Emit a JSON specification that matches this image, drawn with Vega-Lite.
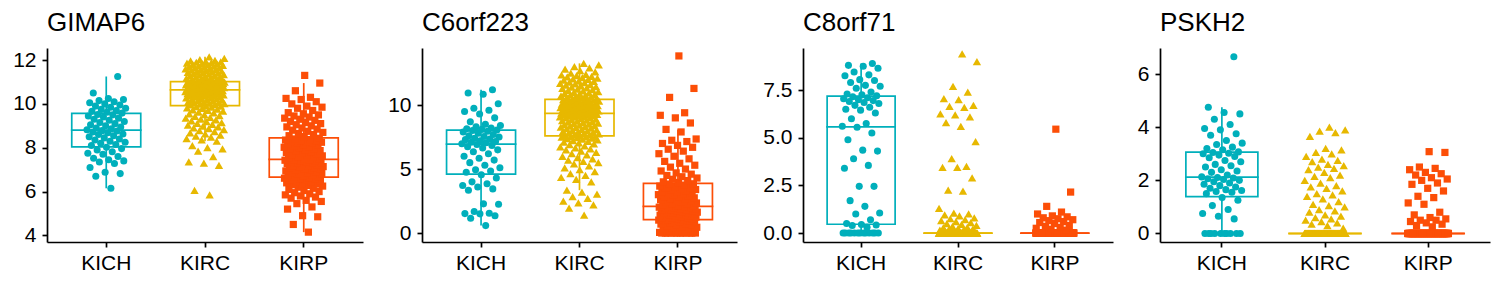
{
"$schema":"https://vega.github.io/schema/vega-lite/v6.json",
"background":"white",
"padding":{"left":0,"top":10,"right":4,"bottom":4},
"config":{
"view":{"stroke":null},
"font":"Liberation Sans",
"axis":{"domainColor":"black","domainWidth":1.7,"tickColor":"black","tickWidth":1.7,"tickSize":5,"labelColor":"black","labelFont":"Liberation Sans","labelFontSize":21,"grid":false},
"axisX":{"labelPadding":5,"labelAngle":0},
"axisY":{"labelPadding":6},
"title":{"font":"Liberation Sans","fontSize":26,"fontWeight":"normal","color":"black","anchor":"start","frame":"group","baseline":"alphabetic","offset":12}
},
"data":{"values":[
{"type":"KICH","GIMAP6":6.15,"C6orf223":0.58,"C8orf71":0,"PSKH2":0},
{"type":"KICH","GIMAP6":6.7,"C6orf223":1.15,"C8orf71":0,"PSKH2":0},
{"type":"KICH","GIMAP6":6.82,"C6orf223":1.35,"C8orf71":0,"PSKH2":0},
{"type":"KICH","GIMAP6":6.88,"C6orf223":1.5,"C8orf71":0,"PSKH2":0},
{"type":"KICH","GIMAP6":7.1,"C6orf223":1.52,"C8orf71":0,"PSKH2":0},
{"type":"KICH","GIMAP6":7.28,"C6orf223":1.55,"C8orf71":0,"PSKH2":0},
{"type":"KICH","GIMAP6":7.35,"C6orf223":1.68,"C8orf71":0,"PSKH2":0},
{"type":"KICH","GIMAP6":7.4,"C6orf223":2.25,"C8orf71":0,"PSKH2":0},
{"type":"KICH","GIMAP6":7.45,"C6orf223":2.28,"C8orf71":0,"PSKH2":0},
{"type":"KICH","GIMAP6":7.52,"C6orf223":3.35,"C8orf71":0,"PSKH2":0},
{"type":"KICH","GIMAP6":7.6,"C6orf223":3.45,"C8orf71":0,"PSKH2":0.55},
{"type":"KICH","GIMAP6":7.7,"C6orf223":3.6,"C8orf71":0,"PSKH2":0.65},
{"type":"KICH","GIMAP6":7.75,"C6orf223":3.72,"C8orf71":0,"PSKH2":0.75},
{"type":"KICH","GIMAP6":7.82,"C6orf223":3.85,"C8orf71":0.3,"PSKH2":0.9},
{"type":"KICH","GIMAP6":7.9,"C6orf223":4.0,"C8orf71":0.4,"PSKH2":1.05},
{"type":"KICH","GIMAP6":7.96,"C6orf223":4.3,"C8orf71":0.42,"PSKH2":1.25},
{"type":"KICH","GIMAP6":8.02,"C6orf223":4.55,"C8orf71":0.45,"PSKH2":1.35},
{"type":"KICH","GIMAP6":8.1,"C6orf223":4.75,"C8orf71":0.5,"PSKH2":1.5},
{"type":"KICH","GIMAP6":8.15,"C6orf223":4.85,"C8orf71":0.7,"PSKH2":1.55},
{"type":"KICH","GIMAP6":8.2,"C6orf223":4.95,"C8orf71":1.0,"PSKH2":1.58},
{"type":"KICH","GIMAP6":8.25,"C6orf223":5.1,"C8orf71":1.05,"PSKH2":1.62},
{"type":"KICH","GIMAP6":8.3,"C6orf223":5.3,"C8orf71":1.4,"PSKH2":1.65},
{"type":"KICH","GIMAP6":8.35,"C6orf223":5.5,"C8orf71":1.7,"PSKH2":1.7},
{"type":"KICH","GIMAP6":8.4,"C6orf223":5.7,"C8orf71":2.45,"PSKH2":1.75},
{"type":"KICH","GIMAP6":8.45,"C6orf223":5.85,"C8orf71":2.45,"PSKH2":1.8},
{"type":"KICH","GIMAP6":8.5,"C6orf223":6.0,"C8orf71":3.4,"PSKH2":1.85},
{"type":"KICH","GIMAP6":8.55,"C6orf223":6.2,"C8orf71":3.55,"PSKH2":1.9},
{"type":"KICH","GIMAP6":8.6,"C6orf223":6.35,"C8orf71":3.9,"PSKH2":1.95},
{"type":"KICH","GIMAP6":8.63,"C6orf223":6.5,"C8orf71":4.3,"PSKH2":2.0},
{"type":"KICH","GIMAP6":8.68,"C6orf223":6.65,"C8orf71":4.35,"PSKH2":2.03},
{"type":"KICH","GIMAP6":8.72,"C6orf223":6.75,"C8orf71":4.9,"PSKH2":2.06},
{"type":"KICH","GIMAP6":8.76,"C6orf223":6.85,"C8orf71":5.25,"PSKH2":2.09},
{"type":"KICH","GIMAP6":8.78,"C6orf223":6.92,"C8orf71":5.55,"PSKH2":2.11},
{"type":"KICH","GIMAP6":8.82,"C6orf223":6.98,"C8orf71":5.6,"PSKH2":2.13},
{"type":"KICH","GIMAP6":8.86,"C6orf223":7.05,"C8orf71":5.75,"PSKH2":2.2},
{"type":"KICH","GIMAP6":8.9,"C6orf223":7.1,"C8orf71":6.0,"PSKH2":2.3},
{"type":"KICH","GIMAP6":8.95,"C6orf223":7.15,"C8orf71":6.3,"PSKH2":2.35},
{"type":"KICH","GIMAP6":9.0,"C6orf223":7.2,"C8orf71":6.45,"PSKH2":2.4},
{"type":"KICH","GIMAP6":9.05,"C6orf223":7.3,"C8orf71":6.5,"PSKH2":2.5},
{"type":"KICH","GIMAP6":9.1,"C6orf223":7.35,"C8orf71":6.6,"PSKH2":2.55},
{"type":"KICH","GIMAP6":9.15,"C6orf223":7.4,"C8orf71":6.7,"PSKH2":2.6},
{"type":"KICH","GIMAP6":9.2,"C6orf223":7.5,"C8orf71":6.8,"PSKH2":2.7},
{"type":"KICH","GIMAP6":9.25,"C6orf223":7.55,"C8orf71":6.85,"PSKH2":2.75},
{"type":"KICH","GIMAP6":9.3,"C6orf223":7.6,"C8orf71":6.9,"PSKH2":2.85},
{"type":"KICH","GIMAP6":9.35,"C6orf223":7.7,"C8orf71":6.95,"PSKH2":2.9},
{"type":"KICH","GIMAP6":9.4,"C6orf223":7.8,"C8orf71":7.0,"PSKH2":2.95},
{"type":"KICH","GIMAP6":9.45,"C6orf223":7.9,"C8orf71":7.05,"PSKH2":3.0},
{"type":"KICH","GIMAP6":9.5,"C6orf223":7.95,"C8orf71":7.1,"PSKH2":3.02},
{"type":"KICH","GIMAP6":9.52,"C6orf223":8.02,"C8orf71":7.15,"PSKH2":3.05},
{"type":"KICH","GIMAP6":9.58,"C6orf223":8.05,"C8orf71":7.2,"PSKH2":3.07},
{"type":"KICH","GIMAP6":9.62,"C6orf223":8.1,"C8orf71":7.25,"PSKH2":3.15},
{"type":"KICH","GIMAP6":9.66,"C6orf223":8.15,"C8orf71":7.3,"PSKH2":3.2},
{"type":"KICH","GIMAP6":9.7,"C6orf223":8.2,"C8orf71":7.4,"PSKH2":3.25},
{"type":"KICH","GIMAP6":9.75,"C6orf223":8.3,"C8orf71":7.6,"PSKH2":3.35},
{"type":"KICH","GIMAP6":9.8,"C6orf223":8.4,"C8orf71":7.7,"PSKH2":3.4},
{"type":"KICH","GIMAP6":9.85,"C6orf223":8.5,"C8orf71":7.75,"PSKH2":3.5},
{"type":"KICH","GIMAP6":9.9,"C6orf223":8.7,"C8orf71":7.9,"PSKH2":3.7},
{"type":"KICH","GIMAP6":9.95,"C6orf223":9.0,"C8orf71":8.0,"PSKH2":3.75},
{"type":"KICH","GIMAP6":10.0,"C6orf223":9.3,"C8orf71":8.05,"PSKH2":3.9},
{"type":"KICH","GIMAP6":10.05,"C6orf223":9.5,"C8orf71":8.25,"PSKH2":3.95},
{"type":"KICH","GIMAP6":10.1,"C6orf223":9.6,"C8orf71":8.3,"PSKH2":4.1},
{"type":"KICH","GIMAP6":10.15,"C6orf223":9.75,"C8orf71":8.45,"PSKH2":4.3},
{"type":"KICH","GIMAP6":10.2,"C6orf223":10.1,"C8orf71":8.65,"PSKH2":4.5},
{"type":"KICH","GIMAP6":10.25,"C6orf223":10.85,"C8orf71":8.75,"PSKH2":4.55},
{"type":"KICH","GIMAP6":10.5,"C6orf223":10.95,"C8orf71":8.8,"PSKH2":4.75},
{"type":"KICH","GIMAP6":11.25,"C6orf223":11.2,"C8orf71":8.9,"PSKH2":6.65},
{"type":"KIRC","GIMAP6":5.85,"C6orf223":1.4,"C8orf71":0,"PSKH2":0},
{"type":"KIRC","GIMAP6":6.05,"C6orf223":1.95,"C8orf71":0,"PSKH2":0},
{"type":"KIRC","GIMAP6":7.2,"C6orf223":2.2,"C8orf71":0,"PSKH2":0},
{"type":"KIRC","GIMAP6":7.3,"C6orf223":2.35,"C8orf71":0,"PSKH2":0},
{"type":"KIRC","GIMAP6":7.35,"C6orf223":2.5,"C8orf71":0,"PSKH2":0},
{"type":"KIRC","GIMAP6":7.6,"C6orf223":2.7,"C8orf71":0,"PSKH2":0},
{"type":"KIRC","GIMAP6":7.85,"C6orf223":2.85,"C8orf71":0,"PSKH2":0},
{"type":"KIRC","GIMAP6":7.95,"C6orf223":3.05,"C8orf71":0,"PSKH2":0},
{"type":"KIRC","GIMAP6":8.0,"C6orf223":3.2,"C8orf71":0,"PSKH2":0},
{"type":"KIRC","GIMAP6":8.1,"C6orf223":3.35,"C8orf71":0,"PSKH2":0},
{"type":"KIRC","GIMAP6":8.3,"C6orf223":4.0,"C8orf71":0,"PSKH2":0},
{"type":"KIRC","GIMAP6":8.36,"C6orf223":4.2,"C8orf71":0,"PSKH2":0},
{"type":"KIRC","GIMAP6":8.42,"C6orf223":4.35,"C8orf71":0,"PSKH2":0},
{"type":"KIRC","GIMAP6":8.48,"C6orf223":4.5,"C8orf71":0,"PSKH2":0},
{"type":"KIRC","GIMAP6":8.53,"C6orf223":4.65,"C8orf71":0,"PSKH2":0},
{"type":"KIRC","GIMAP6":8.58,"C6orf223":4.8,"C8orf71":0,"PSKH2":0},
{"type":"KIRC","GIMAP6":8.63,"C6orf223":4.95,"C8orf71":0,"PSKH2":0},
{"type":"KIRC","GIMAP6":8.68,"C6orf223":5.1,"C8orf71":0,"PSKH2":0},
{"type":"KIRC","GIMAP6":8.73,"C6orf223":5.25,"C8orf71":0,"PSKH2":0},
{"type":"KIRC","GIMAP6":8.78,"C6orf223":5.4,"C8orf71":0,"PSKH2":0},
{"type":"KIRC","GIMAP6":8.83,"C6orf223":5.5,"C8orf71":0,"PSKH2":0},
{"type":"KIRC","GIMAP6":8.87,"C6orf223":5.6,"C8orf71":0,"PSKH2":0},
{"type":"KIRC","GIMAP6":8.91,"C6orf223":5.7,"C8orf71":0,"PSKH2":0},
{"type":"KIRC","GIMAP6":8.95,"C6orf223":5.8,"C8orf71":0,"PSKH2":0},
{"type":"KIRC","GIMAP6":8.99,"C6orf223":5.9,"C8orf71":0,"PSKH2":0},
{"type":"KIRC","GIMAP6":9.03,"C6orf223":6.0,"C8orf71":0,"PSKH2":0},
{"type":"KIRC","GIMAP6":9.07,"C6orf223":6.1,"C8orf71":0,"PSKH2":0},
{"type":"KIRC","GIMAP6":9.11,"C6orf223":6.2,"C8orf71":0,"PSKH2":0},
{"type":"KIRC","GIMAP6":9.15,"C6orf223":6.3,"C8orf71":0,"PSKH2":0},
{"type":"KIRC","GIMAP6":9.19,"C6orf223":6.4,"C8orf71":0,"PSKH2":0},
{"type":"KIRC","GIMAP6":9.23,"C6orf223":6.5,"C8orf71":0,"PSKH2":0},
{"type":"KIRC","GIMAP6":9.27,"C6orf223":6.58,"C8orf71":0,"PSKH2":0},
{"type":"KIRC","GIMAP6":9.31,"C6orf223":6.66,"C8orf71":0,"PSKH2":0},
{"type":"KIRC","GIMAP6":9.35,"C6orf223":6.74,"C8orf71":0,"PSKH2":0},
{"type":"KIRC","GIMAP6":9.39,"C6orf223":6.82,"C8orf71":0,"PSKH2":0},
{"type":"KIRC","GIMAP6":9.43,"C6orf223":6.9,"C8orf71":0,"PSKH2":0},
{"type":"KIRC","GIMAP6":9.47,"C6orf223":6.97,"C8orf71":0,"PSKH2":0},
{"type":"KIRC","GIMAP6":9.51,"C6orf223":7.04,"C8orf71":0,"PSKH2":0},
{"type":"KIRC","GIMAP6":9.55,"C6orf223":7.1,"C8orf71":0,"PSKH2":0},
{"type":"KIRC","GIMAP6":9.59,"C6orf223":7.16,"C8orf71":0,"PSKH2":0},
{"type":"KIRC","GIMAP6":9.63,"C6orf223":7.22,"C8orf71":0,"PSKH2":0},
{"type":"KIRC","GIMAP6":9.67,"C6orf223":7.28,"C8orf71":0,"PSKH2":0},
{"type":"KIRC","GIMAP6":9.7,"C6orf223":7.33,"C8orf71":0,"PSKH2":0},
{"type":"KIRC","GIMAP6":9.73,"C6orf223":7.38,"C8orf71":0,"PSKH2":0},
{"type":"KIRC","GIMAP6":9.76,"C6orf223":7.42,"C8orf71":0,"PSKH2":0},
{"type":"KIRC","GIMAP6":9.79,"C6orf223":7.46,"C8orf71":0,"PSKH2":0},
{"type":"KIRC","GIMAP6":9.82,"C6orf223":7.5,"C8orf71":0,"PSKH2":0},
{"type":"KIRC","GIMAP6":9.85,"C6orf223":7.52,"C8orf71":0,"PSKH2":0},
{"type":"KIRC","GIMAP6":9.87,"C6orf223":7.54,"C8orf71":0,"PSKH2":0},
{"type":"KIRC","GIMAP6":9.9,"C6orf223":7.56,"C8orf71":0,"PSKH2":0},
{"type":"KIRC","GIMAP6":9.93,"C6orf223":7.6,"C8orf71":0,"PSKH2":0},
{"type":"KIRC","GIMAP6":9.95,"C6orf223":7.63,"C8orf71":0,"PSKH2":0},
{"type":"KIRC","GIMAP6":9.97,"C6orf223":7.67,"C8orf71":0,"PSKH2":0},
{"type":"KIRC","GIMAP6":9.99,"C6orf223":7.71,"C8orf71":0,"PSKH2":0},
{"type":"KIRC","GIMAP6":10.01,"C6orf223":7.75,"C8orf71":0,"PSKH2":0},
{"type":"KIRC","GIMAP6":10.03,"C6orf223":7.79,"C8orf71":0,"PSKH2":0},
{"type":"KIRC","GIMAP6":10.05,"C6orf223":7.83,"C8orf71":0,"PSKH2":0},
{"type":"KIRC","GIMAP6":10.07,"C6orf223":7.87,"C8orf71":0,"PSKH2":0},
{"type":"KIRC","GIMAP6":10.09,"C6orf223":7.91,"C8orf71":0,"PSKH2":0},
{"type":"KIRC","GIMAP6":10.11,"C6orf223":7.95,"C8orf71":0,"PSKH2":0},
{"type":"KIRC","GIMAP6":10.13,"C6orf223":7.99,"C8orf71":0,"PSKH2":0},
{"type":"KIRC","GIMAP6":10.15,"C6orf223":8.03,"C8orf71":0,"PSKH2":0},
{"type":"KIRC","GIMAP6":10.17,"C6orf223":8.07,"C8orf71":0,"PSKH2":0},
{"type":"KIRC","GIMAP6":10.19,"C6orf223":8.11,"C8orf71":0,"PSKH2":0},
{"type":"KIRC","GIMAP6":10.21,"C6orf223":8.15,"C8orf71":0,"PSKH2":0},
{"type":"KIRC","GIMAP6":10.23,"C6orf223":8.19,"C8orf71":0,"PSKH2":0},
{"type":"KIRC","GIMAP6":10.25,"C6orf223":8.23,"C8orf71":0,"PSKH2":0},
{"type":"KIRC","GIMAP6":10.27,"C6orf223":8.27,"C8orf71":0,"PSKH2":0},
{"type":"KIRC","GIMAP6":10.29,"C6orf223":8.31,"C8orf71":0,"PSKH2":0},
{"type":"KIRC","GIMAP6":10.31,"C6orf223":8.35,"C8orf71":0,"PSKH2":0},
{"type":"KIRC","GIMAP6":10.33,"C6orf223":8.39,"C8orf71":0,"PSKH2":0},
{"type":"KIRC","GIMAP6":10.35,"C6orf223":8.43,"C8orf71":0,"PSKH2":0},
{"type":"KIRC","GIMAP6":10.37,"C6orf223":8.47,"C8orf71":0,"PSKH2":0},
{"type":"KIRC","GIMAP6":10.38,"C6orf223":8.51,"C8orf71":0,"PSKH2":0},
{"type":"KIRC","GIMAP6":10.39,"C6orf223":8.55,"C8orf71":0,"PSKH2":0},
{"type":"KIRC","GIMAP6":10.41,"C6orf223":8.59,"C8orf71":0,"PSKH2":0},
{"type":"KIRC","GIMAP6":10.42,"C6orf223":8.63,"C8orf71":0,"PSKH2":0},
{"type":"KIRC","GIMAP6":10.43,"C6orf223":8.67,"C8orf71":0,"PSKH2":0},
{"type":"KIRC","GIMAP6":10.45,"C6orf223":8.71,"C8orf71":0,"PSKH2":0},
{"type":"KIRC","GIMAP6":10.46,"C6orf223":8.75,"C8orf71":0,"PSKH2":0},
{"type":"KIRC","GIMAP6":10.47,"C6orf223":8.79,"C8orf71":0,"PSKH2":0},
{"type":"KIRC","GIMAP6":10.49,"C6orf223":8.83,"C8orf71":0,"PSKH2":0},
{"type":"KIRC","GIMAP6":10.5,"C6orf223":8.87,"C8orf71":0,"PSKH2":0},
{"type":"KIRC","GIMAP6":10.51,"C6orf223":8.91,"C8orf71":0,"PSKH2":0},
{"type":"KIRC","GIMAP6":10.52,"C6orf223":8.95,"C8orf71":0,"PSKH2":0},
{"type":"KIRC","GIMAP6":10.53,"C6orf223":8.99,"C8orf71":0,"PSKH2":0},
{"type":"KIRC","GIMAP6":10.54,"C6orf223":9.02,"C8orf71":0,"PSKH2":0},
{"type":"KIRC","GIMAP6":10.55,"C6orf223":9.05,"C8orf71":0,"PSKH2":0},
{"type":"KIRC","GIMAP6":10.56,"C6orf223":9.08,"C8orf71":0,"PSKH2":0},
{"type":"KIRC","GIMAP6":10.57,"C6orf223":9.11,"C8orf71":0,"PSKH2":0},
{"type":"KIRC","GIMAP6":10.58,"C6orf223":9.14,"C8orf71":0,"PSKH2":0},
{"type":"KIRC","GIMAP6":10.59,"C6orf223":9.17,"C8orf71":0,"PSKH2":0},
{"type":"KIRC","GIMAP6":10.59,"C6orf223":9.2,"C8orf71":0,"PSKH2":0},
{"type":"KIRC","GIMAP6":10.6,"C6orf223":9.22,"C8orf71":0,"PSKH2":0},
{"type":"KIRC","GIMAP6":10.6,"C6orf223":9.24,"C8orf71":0,"PSKH2":0},
{"type":"KIRC","GIMAP6":10.61,"C6orf223":9.26,"C8orf71":0,"PSKH2":0},
{"type":"KIRC","GIMAP6":10.61,"C6orf223":9.28,"C8orf71":0,"PSKH2":0},
{"type":"KIRC","GIMAP6":10.62,"C6orf223":9.3,"C8orf71":0,"PSKH2":0},
{"type":"KIRC","GIMAP6":10.62,"C6orf223":9.32,"C8orf71":0,"PSKH2":0},
{"type":"KIRC","GIMAP6":10.63,"C6orf223":9.34,"C8orf71":0,"PSKH2":0},
{"type":"KIRC","GIMAP6":10.65,"C6orf223":9.36,"C8orf71":0,"PSKH2":0},
{"type":"KIRC","GIMAP6":10.66,"C6orf223":9.38,"C8orf71":0,"PSKH2":0},
{"type":"KIRC","GIMAP6":10.67,"C6orf223":9.4,"C8orf71":0,"PSKH2":0},
{"type":"KIRC","GIMAP6":10.68,"C6orf223":9.42,"C8orf71":0,"PSKH2":0},
{"type":"KIRC","GIMAP6":10.69,"C6orf223":9.44,"C8orf71":0,"PSKH2":0},
{"type":"KIRC","GIMAP6":10.7,"C6orf223":9.46,"C8orf71":0,"PSKH2":0},
{"type":"KIRC","GIMAP6":10.71,"C6orf223":9.48,"C8orf71":0,"PSKH2":0},
{"type":"KIRC","GIMAP6":10.72,"C6orf223":9.5,"C8orf71":0,"PSKH2":0},
{"type":"KIRC","GIMAP6":10.73,"C6orf223":9.52,"C8orf71":0,"PSKH2":0},
{"type":"KIRC","GIMAP6":10.74,"C6orf223":9.54,"C8orf71":0,"PSKH2":0},
{"type":"KIRC","GIMAP6":10.75,"C6orf223":9.56,"C8orf71":0,"PSKH2":0},
{"type":"KIRC","GIMAP6":10.76,"C6orf223":9.58,"C8orf71":0,"PSKH2":0},
{"type":"KIRC","GIMAP6":10.77,"C6orf223":9.6,"C8orf71":0,"PSKH2":0},
{"type":"KIRC","GIMAP6":10.78,"C6orf223":9.62,"C8orf71":0,"PSKH2":0},
{"type":"KIRC","GIMAP6":10.79,"C6orf223":9.64,"C8orf71":0,"PSKH2":0},
{"type":"KIRC","GIMAP6":10.8,"C6orf223":9.66,"C8orf71":0,"PSKH2":0},
{"type":"KIRC","GIMAP6":10.81,"C6orf223":9.68,"C8orf71":0,"PSKH2":0},
{"type":"KIRC","GIMAP6":10.82,"C6orf223":9.7,"C8orf71":0,"PSKH2":0},
{"type":"KIRC","GIMAP6":10.83,"C6orf223":9.72,"C8orf71":0,"PSKH2":0},
{"type":"KIRC","GIMAP6":10.84,"C6orf223":9.74,"C8orf71":0,"PSKH2":0},
{"type":"KIRC","GIMAP6":10.85,"C6orf223":9.76,"C8orf71":0,"PSKH2":0},
{"type":"KIRC","GIMAP6":10.86,"C6orf223":9.78,"C8orf71":0,"PSKH2":0},
{"type":"KIRC","GIMAP6":10.87,"C6orf223":9.8,"C8orf71":0,"PSKH2":0},
{"type":"KIRC","GIMAP6":10.87,"C6orf223":9.82,"C8orf71":0,"PSKH2":0},
{"type":"KIRC","GIMAP6":10.88,"C6orf223":9.84,"C8orf71":0,"PSKH2":0},
{"type":"KIRC","GIMAP6":10.89,"C6orf223":9.86,"C8orf71":0,"PSKH2":0},
{"type":"KIRC","GIMAP6":10.9,"C6orf223":9.88,"C8orf71":0,"PSKH2":0},
{"type":"KIRC","GIMAP6":10.9,"C6orf223":9.9,"C8orf71":0,"PSKH2":0},
{"type":"KIRC","GIMAP6":10.91,"C6orf223":9.92,"C8orf71":0,"PSKH2":0},
{"type":"KIRC","GIMAP6":10.92,"C6orf223":9.94,"C8orf71":0,"PSKH2":0},
{"type":"KIRC","GIMAP6":10.93,"C6orf223":9.96,"C8orf71":0,"PSKH2":0},
{"type":"KIRC","GIMAP6":10.93,"C6orf223":9.98,"C8orf71":0,"PSKH2":0},
{"type":"KIRC","GIMAP6":10.94,"C6orf223":10.0,"C8orf71":0,"PSKH2":0},
{"type":"KIRC","GIMAP6":10.95,"C6orf223":10.02,"C8orf71":0,"PSKH2":0},
{"type":"KIRC","GIMAP6":10.95,"C6orf223":10.04,"C8orf71":0,"PSKH2":0},
{"type":"KIRC","GIMAP6":10.96,"C6orf223":10.07,"C8orf71":0,"PSKH2":0},
{"type":"KIRC","GIMAP6":10.96,"C6orf223":10.1,"C8orf71":0,"PSKH2":0},
{"type":"KIRC","GIMAP6":10.97,"C6orf223":10.13,"C8orf71":0,"PSKH2":0},
{"type":"KIRC","GIMAP6":10.97,"C6orf223":10.16,"C8orf71":0,"PSKH2":0},
{"type":"KIRC","GIMAP6":10.98,"C6orf223":10.19,"C8orf71":0,"PSKH2":0},
{"type":"KIRC","GIMAP6":10.98,"C6orf223":10.22,"C8orf71":0,"PSKH2":0},
{"type":"KIRC","GIMAP6":10.98,"C6orf223":10.25,"C8orf71":0,"PSKH2":0},
{"type":"KIRC","GIMAP6":10.99,"C6orf223":10.28,"C8orf71":0,"PSKH2":0},
{"type":"KIRC","GIMAP6":10.99,"C6orf223":10.31,"C8orf71":0,"PSKH2":0},
{"type":"KIRC","GIMAP6":10.99,"C6orf223":10.34,"C8orf71":0,"PSKH2":0},
{"type":"KIRC","GIMAP6":11.0,"C6orf223":10.37,"C8orf71":0,"PSKH2":0},
{"type":"KIRC","GIMAP6":11.0,"C6orf223":10.39,"C8orf71":0,"PSKH2":0},
{"type":"KIRC","GIMAP6":11.0,"C6orf223":10.41,"C8orf71":0,"PSKH2":0},
{"type":"KIRC","GIMAP6":11.0,"C6orf223":10.43,"C8orf71":0,"PSKH2":0},
{"type":"KIRC","GIMAP6":11.01,"C6orf223":10.44,"C8orf71":0,"PSKH2":0},
{"type":"KIRC","GIMAP6":11.05,"C6orf223":10.48,"C8orf71":0,"PSKH2":0},
{"type":"KIRC","GIMAP6":11.08,"C6orf223":10.52,"C8orf71":0.03,"PSKH2":0.2},
{"type":"KIRC","GIMAP6":11.1,"C6orf223":10.56,"C8orf71":0.05,"PSKH2":0.3},
{"type":"KIRC","GIMAP6":11.12,"C6orf223":10.6,"C8orf71":0.08,"PSKH2":0.35},
{"type":"KIRC","GIMAP6":11.14,"C6orf223":10.64,"C8orf71":0.1,"PSKH2":0.4},
{"type":"KIRC","GIMAP6":11.16,"C6orf223":10.68,"C8orf71":0.12,"PSKH2":0.45},
{"type":"KIRC","GIMAP6":11.18,"C6orf223":10.72,"C8orf71":0.15,"PSKH2":0.5},
{"type":"KIRC","GIMAP6":11.2,"C6orf223":10.76,"C8orf71":0.18,"PSKH2":0.55},
{"type":"KIRC","GIMAP6":11.22,"C6orf223":10.8,"C8orf71":0.2,"PSKH2":0.6},
{"type":"KIRC","GIMAP6":11.24,"C6orf223":10.84,"C8orf71":0.22,"PSKH2":0.65},
{"type":"KIRC","GIMAP6":11.26,"C6orf223":10.88,"C8orf71":0.25,"PSKH2":0.7},
{"type":"KIRC","GIMAP6":11.28,"C6orf223":10.92,"C8orf71":0.28,"PSKH2":0.8},
{"type":"KIRC","GIMAP6":11.3,"C6orf223":10.96,"C8orf71":0.3,"PSKH2":0.85},
{"type":"KIRC","GIMAP6":11.32,"C6orf223":11.0,"C8orf71":0.35,"PSKH2":0.9},
{"type":"KIRC","GIMAP6":11.34,"C6orf223":11.05,"C8orf71":0.4,"PSKH2":1.0},
{"type":"KIRC","GIMAP6":11.36,"C6orf223":11.1,"C8orf71":0.45,"PSKH2":1.05},
{"type":"KIRC","GIMAP6":11.38,"C6orf223":11.15,"C8orf71":0.5,"PSKH2":1.1},
{"type":"KIRC","GIMAP6":11.4,"C6orf223":11.2,"C8orf71":0.55,"PSKH2":1.2},
{"type":"KIRC","GIMAP6":11.42,"C6orf223":11.25,"C8orf71":0.6,"PSKH2":1.3},
{"type":"KIRC","GIMAP6":11.44,"C6orf223":11.3,"C8orf71":0.65,"PSKH2":1.4},
{"type":"KIRC","GIMAP6":11.46,"C6orf223":11.35,"C8orf71":0.7,"PSKH2":1.45},
{"type":"KIRC","GIMAP6":11.48,"C6orf223":11.4,"C8orf71":0.75,"PSKH2":1.5},
{"type":"KIRC","GIMAP6":11.5,"C6orf223":11.45,"C8orf71":0.8,"PSKH2":1.6},
{"type":"KIRC","GIMAP6":11.52,"C6orf223":11.5,"C8orf71":0.9,"PSKH2":1.7},
{"type":"KIRC","GIMAP6":11.54,"C6orf223":11.55,"C8orf71":0.95,"PSKH2":1.75},
{"type":"KIRC","GIMAP6":11.56,"C6orf223":11.6,"C8orf71":1.0,"PSKH2":1.8},
{"type":"KIRC","GIMAP6":11.58,"C6orf223":11.65,"C8orf71":1.05,"PSKH2":1.9},
{"type":"KIRC","GIMAP6":11.6,"C6orf223":11.7,"C8orf71":1.3,"PSKH2":2.0},
{"type":"KIRC","GIMAP6":11.62,"C6orf223":11.75,"C8orf71":2.2,"PSKH2":2.1},
{"type":"KIRC","GIMAP6":11.64,"C6orf223":11.8,"C8orf71":2.25,"PSKH2":2.15},
{"type":"KIRC","GIMAP6":11.66,"C6orf223":11.85,"C8orf71":2.9,"PSKH2":2.2},
{"type":"KIRC","GIMAP6":11.68,"C6orf223":11.9,"C8orf71":3.45,"PSKH2":2.3},
{"type":"KIRC","GIMAP6":11.7,"C6orf223":11.95,"C8orf71":3.45,"PSKH2":2.4},
{"type":"KIRC","GIMAP6":11.72,"C6orf223":12.0,"C8orf71":3.5,"PSKH2":2.45},
{"type":"KIRC","GIMAP6":11.74,"C6orf223":12.05,"C8orf71":3.9,"PSKH2":2.5},
{"type":"KIRC","GIMAP6":11.76,"C6orf223":12.1,"C8orf71":4.8,"PSKH2":2.55},
{"type":"KIRC","GIMAP6":11.78,"C6orf223":12.15,"C8orf71":5.6,"PSKH2":2.6},
{"type":"KIRC","GIMAP6":11.8,"C6orf223":12.2,"C8orf71":5.8,"PSKH2":2.7},
{"type":"KIRC","GIMAP6":11.82,"C6orf223":12.25,"C8orf71":6.1,"PSKH2":2.75},
{"type":"KIRC","GIMAP6":11.84,"C6orf223":12.3,"C8orf71":6.2,"PSKH2":2.8},
{"type":"KIRC","GIMAP6":11.86,"C6orf223":12.35,"C8orf71":6.25,"PSKH2":2.9},
{"type":"KIRC","GIMAP6":11.88,"C6orf223":12.4,"C8orf71":6.6,"PSKH2":3.0},
{"type":"KIRC","GIMAP6":11.9,"C6orf223":12.5,"C8orf71":6.65,"PSKH2":3.05},
{"type":"KIRC","GIMAP6":11.92,"C6orf223":12.6,"C8orf71":6.7,"PSKH2":3.15},
{"type":"KIRC","GIMAP6":11.94,"C6orf223":12.7,"C8orf71":7.0,"PSKH2":3.2},
{"type":"KIRC","GIMAP6":11.96,"C6orf223":12.8,"C8orf71":7.05,"PSKH2":3.65},
{"type":"KIRC","GIMAP6":11.98,"C6orf223":12.9,"C8orf71":7.4,"PSKH2":3.8},
{"type":"KIRC","GIMAP6":12.02,"C6orf223":13.0,"C8orf71":7.7,"PSKH2":3.85},
{"type":"KIRC","GIMAP6":12.08,"C6orf223":13.15,"C8orf71":9.0,"PSKH2":3.9},
{"type":"KIRC","GIMAP6":12.15,"C6orf223":13.26,"C8orf71":9.4,"PSKH2":4.0},
{"type":"KIRP","GIMAP6":4.15,"C6orf223":0,"C8orf71":0,"PSKH2":0},
{"type":"KIRP","GIMAP6":4.5,"C6orf223":0,"C8orf71":0,"PSKH2":0},
{"type":"KIRP","GIMAP6":4.85,"C6orf223":0,"C8orf71":0,"PSKH2":0},
{"type":"KIRP","GIMAP6":4.9,"C6orf223":0,"C8orf71":0,"PSKH2":0},
{"type":"KIRP","GIMAP6":5.2,"C6orf223":0,"C8orf71":0,"PSKH2":0},
{"type":"KIRP","GIMAP6":5.3,"C6orf223":0,"C8orf71":0,"PSKH2":0},
{"type":"KIRP","GIMAP6":5.45,"C6orf223":0,"C8orf71":0,"PSKH2":0},
{"type":"KIRP","GIMAP6":5.55,"C6orf223":0,"C8orf71":0,"PSKH2":0},
{"type":"KIRP","GIMAP6":5.6,"C6orf223":0,"C8orf71":0,"PSKH2":0},
{"type":"KIRP","GIMAP6":5.7,"C6orf223":0,"C8orf71":0,"PSKH2":0},
{"type":"KIRP","GIMAP6":5.75,"C6orf223":0,"C8orf71":0,"PSKH2":0},
{"type":"KIRP","GIMAP6":5.8,"C6orf223":0,"C8orf71":0,"PSKH2":0},
{"type":"KIRP","GIMAP6":5.85,"C6orf223":0.05,"C8orf71":0,"PSKH2":0},
{"type":"KIRP","GIMAP6":5.9,"C6orf223":0.1,"C8orf71":0,"PSKH2":0},
{"type":"KIRP","GIMAP6":5.95,"C6orf223":0.15,"C8orf71":0,"PSKH2":0},
{"type":"KIRP","GIMAP6":6.0,"C6orf223":0.2,"C8orf71":0,"PSKH2":0},
{"type":"KIRP","GIMAP6":6.05,"C6orf223":0.25,"C8orf71":0,"PSKH2":0},
{"type":"KIRP","GIMAP6":6.1,"C6orf223":0.3,"C8orf71":0,"PSKH2":0},
{"type":"KIRP","GIMAP6":6.15,"C6orf223":0.35,"C8orf71":0,"PSKH2":0},
{"type":"KIRP","GIMAP6":6.2,"C6orf223":0.4,"C8orf71":0,"PSKH2":0},
{"type":"KIRP","GIMAP6":6.25,"C6orf223":0.45,"C8orf71":0,"PSKH2":0},
{"type":"KIRP","GIMAP6":6.28,"C6orf223":0.5,"C8orf71":0,"PSKH2":0},
{"type":"KIRP","GIMAP6":6.31,"C6orf223":0.55,"C8orf71":0,"PSKH2":0},
{"type":"KIRP","GIMAP6":6.34,"C6orf223":0.6,"C8orf71":0,"PSKH2":0},
{"type":"KIRP","GIMAP6":6.37,"C6orf223":0.65,"C8orf71":0,"PSKH2":0},
{"type":"KIRP","GIMAP6":6.4,"C6orf223":0.7,"C8orf71":0,"PSKH2":0},
{"type":"KIRP","GIMAP6":6.43,"C6orf223":0.75,"C8orf71":0,"PSKH2":0},
{"type":"KIRP","GIMAP6":6.46,"C6orf223":0.8,"C8orf71":0,"PSKH2":0},
{"type":"KIRP","GIMAP6":6.49,"C6orf223":0.85,"C8orf71":0,"PSKH2":0},
{"type":"KIRP","GIMAP6":6.52,"C6orf223":0.9,"C8orf71":0,"PSKH2":0},
{"type":"KIRP","GIMAP6":6.55,"C6orf223":0.93,"C8orf71":0,"PSKH2":0},
{"type":"KIRP","GIMAP6":6.57,"C6orf223":0.96,"C8orf71":0,"PSKH2":0},
{"type":"KIRP","GIMAP6":6.59,"C6orf223":0.99,"C8orf71":0,"PSKH2":0},
{"type":"KIRP","GIMAP6":6.61,"C6orf223":1.01,"C8orf71":0,"PSKH2":0},
{"type":"KIRP","GIMAP6":6.63,"C6orf223":1.03,"C8orf71":0,"PSKH2":0},
{"type":"KIRP","GIMAP6":6.67,"C6orf223":1.06,"C8orf71":0,"PSKH2":0},
{"type":"KIRP","GIMAP6":6.69,"C6orf223":1.09,"C8orf71":0,"PSKH2":0},
{"type":"KIRP","GIMAP6":6.72,"C6orf223":1.12,"C8orf71":0,"PSKH2":0},
{"type":"KIRP","GIMAP6":6.74,"C6orf223":1.15,"C8orf71":0,"PSKH2":0},
{"type":"KIRP","GIMAP6":6.77,"C6orf223":1.18,"C8orf71":0,"PSKH2":0},
{"type":"KIRP","GIMAP6":6.79,"C6orf223":1.21,"C8orf71":0,"PSKH2":0},
{"type":"KIRP","GIMAP6":6.82,"C6orf223":1.24,"C8orf71":0,"PSKH2":0},
{"type":"KIRP","GIMAP6":6.84,"C6orf223":1.27,"C8orf71":0,"PSKH2":0},
{"type":"KIRP","GIMAP6":6.87,"C6orf223":1.3,"C8orf71":0,"PSKH2":0},
{"type":"KIRP","GIMAP6":6.89,"C6orf223":1.33,"C8orf71":0,"PSKH2":0},
{"type":"KIRP","GIMAP6":6.92,"C6orf223":1.36,"C8orf71":0,"PSKH2":0},
{"type":"KIRP","GIMAP6":6.94,"C6orf223":1.39,"C8orf71":0,"PSKH2":0},
{"type":"KIRP","GIMAP6":6.97,"C6orf223":1.42,"C8orf71":0,"PSKH2":0},
{"type":"KIRP","GIMAP6":6.99,"C6orf223":1.45,"C8orf71":0,"PSKH2":0},
{"type":"KIRP","GIMAP6":7.02,"C6orf223":1.48,"C8orf71":0,"PSKH2":0},
{"type":"KIRP","GIMAP6":7.04,"C6orf223":1.51,"C8orf71":0,"PSKH2":0},
{"type":"KIRP","GIMAP6":7.07,"C6orf223":1.54,"C8orf71":0,"PSKH2":0},
{"type":"KIRP","GIMAP6":7.09,"C6orf223":1.57,"C8orf71":0,"PSKH2":0},
{"type":"KIRP","GIMAP6":7.12,"C6orf223":1.6,"C8orf71":0,"PSKH2":0},
{"type":"KIRP","GIMAP6":7.14,"C6orf223":1.63,"C8orf71":0,"PSKH2":0},
{"type":"KIRP","GIMAP6":7.17,"C6orf223":1.66,"C8orf71":0,"PSKH2":0},
{"type":"KIRP","GIMAP6":7.19,"C6orf223":1.69,"C8orf71":0,"PSKH2":0},
{"type":"KIRP","GIMAP6":7.22,"C6orf223":1.72,"C8orf71":0,"PSKH2":0},
{"type":"KIRP","GIMAP6":7.24,"C6orf223":1.75,"C8orf71":0,"PSKH2":0},
{"type":"KIRP","GIMAP6":7.27,"C6orf223":1.78,"C8orf71":0,"PSKH2":0},
{"type":"KIRP","GIMAP6":7.29,"C6orf223":1.81,"C8orf71":0,"PSKH2":0},
{"type":"KIRP","GIMAP6":7.31,"C6orf223":1.84,"C8orf71":0,"PSKH2":0},
{"type":"KIRP","GIMAP6":7.33,"C6orf223":1.87,"C8orf71":0,"PSKH2":0},
{"type":"KIRP","GIMAP6":7.35,"C6orf223":1.9,"C8orf71":0,"PSKH2":0},
{"type":"KIRP","GIMAP6":7.37,"C6orf223":1.93,"C8orf71":0,"PSKH2":0},
{"type":"KIRP","GIMAP6":7.39,"C6orf223":1.96,"C8orf71":0,"PSKH2":0},
{"type":"KIRP","GIMAP6":7.41,"C6orf223":1.99,"C8orf71":0,"PSKH2":0},
{"type":"KIRP","GIMAP6":7.43,"C6orf223":2.02,"C8orf71":0,"PSKH2":0},
{"type":"KIRP","GIMAP6":7.45,"C6orf223":2.06,"C8orf71":0,"PSKH2":0},
{"type":"KIRP","GIMAP6":7.46,"C6orf223":2.08,"C8orf71":0,"PSKH2":0},
{"type":"KIRP","GIMAP6":7.48,"C6orf223":2.1,"C8orf71":0,"PSKH2":0},
{"type":"KIRP","GIMAP6":7.51,"C6orf223":2.15,"C8orf71":0,"PSKH2":0},
{"type":"KIRP","GIMAP6":7.54,"C6orf223":2.2,"C8orf71":0,"PSKH2":0},
{"type":"KIRP","GIMAP6":7.57,"C6orf223":2.25,"C8orf71":0,"PSKH2":0},
{"type":"KIRP","GIMAP6":7.6,"C6orf223":2.3,"C8orf71":0,"PSKH2":0},
{"type":"KIRP","GIMAP6":7.63,"C6orf223":2.35,"C8orf71":0,"PSKH2":0},
{"type":"KIRP","GIMAP6":7.66,"C6orf223":2.4,"C8orf71":0,"PSKH2":0},
{"type":"KIRP","GIMAP6":7.69,"C6orf223":2.45,"C8orf71":0,"PSKH2":0},
{"type":"KIRP","GIMAP6":7.72,"C6orf223":2.5,"C8orf71":0,"PSKH2":0},
{"type":"KIRP","GIMAP6":7.75,"C6orf223":2.55,"C8orf71":0,"PSKH2":0},
{"type":"KIRP","GIMAP6":7.78,"C6orf223":2.6,"C8orf71":0,"PSKH2":0},
{"type":"KIRP","GIMAP6":7.81,"C6orf223":2.65,"C8orf71":0,"PSKH2":0},
{"type":"KIRP","GIMAP6":7.84,"C6orf223":2.7,"C8orf71":0,"PSKH2":0},
{"type":"KIRP","GIMAP6":7.87,"C6orf223":2.75,"C8orf71":0,"PSKH2":0},
{"type":"KIRP","GIMAP6":7.9,"C6orf223":2.8,"C8orf71":0,"PSKH2":0},
{"type":"KIRP","GIMAP6":7.93,"C6orf223":2.85,"C8orf71":0,"PSKH2":0},
{"type":"KIRP","GIMAP6":7.96,"C6orf223":2.9,"C8orf71":0,"PSKH2":0},
{"type":"KIRP","GIMAP6":7.99,"C6orf223":2.95,"C8orf71":0,"PSKH2":0},
{"type":"KIRP","GIMAP6":8.02,"C6orf223":3.0,"C8orf71":0,"PSKH2":0},
{"type":"KIRP","GIMAP6":8.05,"C6orf223":3.05,"C8orf71":0,"PSKH2":0},
{"type":"KIRP","GIMAP6":8.08,"C6orf223":3.1,"C8orf71":0,"PSKH2":0},
{"type":"KIRP","GIMAP6":8.11,"C6orf223":3.15,"C8orf71":0,"PSKH2":0},
{"type":"KIRP","GIMAP6":8.14,"C6orf223":3.2,"C8orf71":0,"PSKH2":0},
{"type":"KIRP","GIMAP6":8.17,"C6orf223":3.25,"C8orf71":0,"PSKH2":0},
{"type":"KIRP","GIMAP6":8.2,"C6orf223":3.3,"C8orf71":0,"PSKH2":0},
{"type":"KIRP","GIMAP6":8.23,"C6orf223":3.35,"C8orf71":0,"PSKH2":0},
{"type":"KIRP","GIMAP6":8.25,"C6orf223":3.4,"C8orf71":0,"PSKH2":0},
{"type":"KIRP","GIMAP6":8.27,"C6orf223":3.45,"C8orf71":0,"PSKH2":0},
{"type":"KIRP","GIMAP6":8.29,"C6orf223":3.5,"C8orf71":0,"PSKH2":0},
{"type":"KIRP","GIMAP6":8.31,"C6orf223":3.55,"C8orf71":0,"PSKH2":0},
{"type":"KIRP","GIMAP6":8.33,"C6orf223":3.6,"C8orf71":0,"PSKH2":0},
{"type":"KIRP","GIMAP6":8.35,"C6orf223":3.67,"C8orf71":0,"PSKH2":0},
{"type":"KIRP","GIMAP6":8.37,"C6orf223":3.75,"C8orf71":0,"PSKH2":0},
{"type":"KIRP","GIMAP6":8.4,"C6orf223":3.83,"C8orf71":0,"PSKH2":0},
{"type":"KIRP","GIMAP6":8.43,"C6orf223":3.85,"C8orf71":0,"PSKH2":0},
{"type":"KIRP","GIMAP6":8.51,"C6orf223":3.95,"C8orf71":0,"PSKH2":0},
{"type":"KIRP","GIMAP6":8.55,"C6orf223":4.0,"C8orf71":0,"PSKH2":0},
{"type":"KIRP","GIMAP6":8.6,"C6orf223":4.1,"C8orf71":0,"PSKH2":0},
{"type":"KIRP","GIMAP6":8.65,"C6orf223":4.2,"C8orf71":0,"PSKH2":0},
{"type":"KIRP","GIMAP6":8.7,"C6orf223":4.3,"C8orf71":0,"PSKH2":0},
{"type":"KIRP","GIMAP6":8.75,"C6orf223":4.4,"C8orf71":0,"PSKH2":0.25},
{"type":"KIRP","GIMAP6":8.8,"C6orf223":4.5,"C8orf71":0,"PSKH2":0.3},
{"type":"KIRP","GIMAP6":8.85,"C6orf223":4.6,"C8orf71":0,"PSKH2":0.35},
{"type":"KIRP","GIMAP6":8.9,"C6orf223":4.7,"C8orf71":0,"PSKH2":0.4},
{"type":"KIRP","GIMAP6":8.95,"C6orf223":4.85,"C8orf71":0,"PSKH2":0.45},
{"type":"KIRP","GIMAP6":9.0,"C6orf223":5.0,"C8orf71":0,"PSKH2":0.5},
{"type":"KIRP","GIMAP6":9.05,"C6orf223":5.15,"C8orf71":0,"PSKH2":0.5},
{"type":"KIRP","GIMAP6":9.1,"C6orf223":5.3,"C8orf71":0,"PSKH2":0.55},
{"type":"KIRP","GIMAP6":9.15,"C6orf223":5.45,"C8orf71":0,"PSKH2":0.6},
{"type":"KIRP","GIMAP6":9.2,"C6orf223":5.6,"C8orf71":0,"PSKH2":0.7},
{"type":"KIRP","GIMAP6":9.25,"C6orf223":5.8,"C8orf71":0.15,"PSKH2":0.8},
{"type":"KIRP","GIMAP6":9.3,"C6orf223":6.0,"C8orf71":0.2,"PSKH2":1.1},
{"type":"KIRP","GIMAP6":9.35,"C6orf223":6.2,"C8orf71":0.25,"PSKH2":1.15},
{"type":"KIRP","GIMAP6":9.4,"C6orf223":6.4,"C8orf71":0.3,"PSKH2":1.35},
{"type":"KIRP","GIMAP6":9.45,"C6orf223":6.55,"C8orf71":0.35,"PSKH2":1.4},
{"type":"KIRP","GIMAP6":9.5,"C6orf223":6.7,"C8orf71":0.4,"PSKH2":1.6},
{"type":"KIRP","GIMAP6":9.55,"C6orf223":6.85,"C8orf71":0.5,"PSKH2":1.7},
{"type":"KIRP","GIMAP6":9.6,"C6orf223":7.0,"C8orf71":0.55,"PSKH2":1.85},
{"type":"KIRP","GIMAP6":9.7,"C6orf223":7.15,"C8orf71":0.6,"PSKH2":1.9},
{"type":"KIRP","GIMAP6":9.8,"C6orf223":7.25,"C8orf71":0.65,"PSKH2":2.0},
{"type":"KIRP","GIMAP6":9.85,"C6orf223":7.35,"C8orf71":0.7,"PSKH2":2.05},
{"type":"KIRP","GIMAP6":9.9,"C6orf223":7.9,"C8orf71":0.75,"PSKH2":2.1},
{"type":"KIRP","GIMAP6":10.0,"C6orf223":8.1,"C8orf71":0.8,"PSKH2":2.2},
{"type":"KIRP","GIMAP6":10.1,"C6orf223":8.6,"C8orf71":0.85,"PSKH2":2.25},
{"type":"KIRP","GIMAP6":10.2,"C6orf223":9.0,"C8orf71":0.9,"PSKH2":2.3},
{"type":"KIRP","GIMAP6":10.25,"C6orf223":9.2,"C8orf71":1.0,"PSKH2":2.4},
{"type":"KIRP","GIMAP6":10.3,"C6orf223":9.4,"C8orf71":1.1,"PSKH2":2.45},
{"type":"KIRP","GIMAP6":10.6,"C6orf223":10.6,"C8orf71":1.4,"PSKH2":2.5},
{"type":"KIRP","GIMAP6":10.95,"C6orf223":11.3,"C8orf71":2.15,"PSKH2":3.05},
{"type":"KIRP","GIMAP6":11.3,"C6orf223":13.84,"C8orf71":5.45,"PSKH2":3.08}
]},
"transform":[
{"window":[{"op":"row_number","as":"rn"}],"groupby":["type"]},
{"calculate":"(datum.rn*0.6180339887)%1","as":"jit"}
],
"spacing":0,
"resolve":{"scale":{"x":"independent","y":"independent","xOffset":"independent"}},
"hconcat":[
{"title":"GIMAP6","width":316,"height":194,
"layer":[
{"mark":{"type":"boxplot","extent":1.5,"outliers":false,"size":69,"box":{"fill":"transparent","strokeWidth":1.7},"median":{"fillOpacity":0,"thickness":0.01,"strokeWidth":1.8},"rule":{"strokeWidth":1.7}},
"encoding":{"x":{"field":"type","type":"nominal","title":null,"scale":{"paddingInner":0,"paddingOuter":0.1}},
"y":{"field":"GIMAP6","type":"quantitative","title":null,"scale":{"domain":[3.7,12.55],"nice":false,"zero":false},"axis":{"values":[4,6,8,10,12],"minExtent":47,"maxExtent":47}},
"stroke":{"field":"type","type":"nominal","scale":{"domain":["KICH","KIRC","KIRP"],"range":["#00AFBB","#E7B800","#FC4E07"]},"legend":null}}},
{"mark":{"type":"point","filled":true,"opacity":1},
"encoding":{"x":{"field":"type","type":"nominal","title":null},
"xOffset":{"field":"jit","type":"quantitative","scale":{"domain":[0,1],"range":[29.6,69.1]}},
"y":{"field":"GIMAP6","type":"quantitative","title":null},
"color":{"field":"type","type":"nominal","scale":{"domain":["KICH","KIRC","KIRP"],"range":["#00AFBB","#E7B800","#FC4E07"]},"legend":null},
"shape":{"field":"type","type":"nominal","scale":{"domain":["KICH","KIRC","KIRP"],"range":["circle","triangle-up","square"]},"legend":null},
"size":{"field":"type","type":"nominal","scale":{"type":"ordinal","domain":["KICH","KIRC","KIRP"],"range":[50,70,52]},"legend":null}}}
]},
{"title":"C6orf223","width":315,"height":194,
"layer":[
{"mark":{"type":"boxplot","extent":1.5,"outliers":false,"size":69,"box":{"fill":"transparent","strokeWidth":1.7},"median":{"fillOpacity":0,"thickness":0.01,"strokeWidth":1.8},"rule":{"strokeWidth":1.7}},
"encoding":{"x":{"field":"type","type":"nominal","title":null,"scale":{"paddingInner":0,"paddingOuter":0.1}},
"y":{"field":"C6orf223","type":"quantitative","title":null,"scale":{"domain":[-0.7,14.46],"nice":false,"zero":false},"axis":{"values":[0,5,10],"minExtent":59,"maxExtent":59}},
"stroke":{"field":"type","type":"nominal","scale":{"domain":["KICH","KIRC","KIRP"],"range":["#00AFBB","#E7B800","#FC4E07"]},"legend":null}}},
{"mark":{"type":"point","filled":true,"opacity":1},
"encoding":{"x":{"field":"type","type":"nominal","title":null},
"xOffset":{"field":"jit","type":"quantitative","scale":{"domain":[0,1],"range":[29.5,68.9]}},
"y":{"field":"C6orf223","type":"quantitative","title":null},
"color":{"field":"type","type":"nominal","scale":{"domain":["KICH","KIRC","KIRP"],"range":["#00AFBB","#E7B800","#FC4E07"]},"legend":null},
"shape":{"field":"type","type":"nominal","scale":{"domain":["KICH","KIRC","KIRP"],"range":["circle","triangle-up","square"]},"legend":null},
"size":{"field":"type","type":"nominal","scale":{"type":"ordinal","domain":["KICH","KIRC","KIRP"],"range":[50,70,52]},"legend":null}}}
]},
{"title":"C8orf71","width":310,"height":194,
"layer":[
{"mark":{"type":"boxplot","extent":1.5,"outliers":false,"size":68,"box":{"fill":"transparent","strokeWidth":1.7},"median":{"fillOpacity":0,"thickness":0.01,"strokeWidth":1.8},"rule":{"strokeWidth":1.7}},
"encoding":{"x":{"field":"type","type":"nominal","title":null,"scale":{"paddingInner":0,"paddingOuter":0.1}},
"y":{"field":"C8orf71","type":"quantitative","title":null,"scale":{"domain":[-0.47,9.71],"nice":false,"zero":false},"axis":{"values":[0,2.5,5,7.5],"format":".1f","minExtent":66,"maxExtent":66}},
"stroke":{"field":"type","type":"nominal","scale":{"domain":["KICH","KIRC","KIRP"],"range":["#00AFBB","#E7B800","#FC4E07"]},"legend":null}}},
{"mark":{"type":"point","filled":true,"opacity":1},
"encoding":{"x":{"field":"type","type":"nominal","title":null},
"xOffset":{"field":"jit","type":"quantitative","scale":{"domain":[0,1],"range":[29.1,67.8]}},
"y":{"field":"C8orf71","type":"quantitative","title":null},
"color":{"field":"type","type":"nominal","scale":{"domain":["KICH","KIRC","KIRP"],"range":["#00AFBB","#E7B800","#FC4E07"]},"legend":null},
"shape":{"field":"type","type":"nominal","scale":{"domain":["KICH","KIRC","KIRP"],"range":["circle","triangle-up","square"]},"legend":null},
"size":{"field":"type","type":"nominal","scale":{"type":"ordinal","domain":["KICH","KIRC","KIRP"],"range":[50,70,52]},"legend":null}}}
]},
{"title":"PSKH2","width":330,"height":194,
"layer":[
{"mark":{"type":"boxplot","extent":1.5,"outliers":false,"size":72,"box":{"fill":"transparent","strokeWidth":1.7},"median":{"fillOpacity":0,"thickness":0.01,"strokeWidth":1.8},"rule":{"strokeWidth":1.7}},
"encoding":{"x":{"field":"type","type":"nominal","title":null,"scale":{"paddingInner":0,"paddingOuter":0.1}},
"y":{"field":"PSKH2","type":"quantitative","title":null,"scale":{"domain":[-0.32,6.98],"nice":false,"zero":false},"axis":{"values":[0,2,4,6],"minExtent":47,"maxExtent":47}},
"stroke":{"field":"type","type":"nominal","scale":{"domain":["KICH","KIRC","KIRP"],"range":["#00AFBB","#E7B800","#FC4E07"]},"legend":null}}},
{"mark":{"type":"point","filled":true,"opacity":1},
"encoding":{"x":{"field":"type","type":"nominal","title":null},
"xOffset":{"field":"jit","type":"quantitative","scale":{"domain":[0,1],"range":[30.9,72.2]}},
"y":{"field":"PSKH2","type":"quantitative","title":null},
"color":{"field":"type","type":"nominal","scale":{"domain":["KICH","KIRC","KIRP"],"range":["#00AFBB","#E7B800","#FC4E07"]},"legend":null},
"shape":{"field":"type","type":"nominal","scale":{"domain":["KICH","KIRC","KIRP"],"range":["circle","triangle-up","square"]},"legend":null},
"size":{"field":"type","type":"nominal","scale":{"type":"ordinal","domain":["KICH","KIRC","KIRP"],"range":[50,70,52]},"legend":null}}}
]}
]
}
